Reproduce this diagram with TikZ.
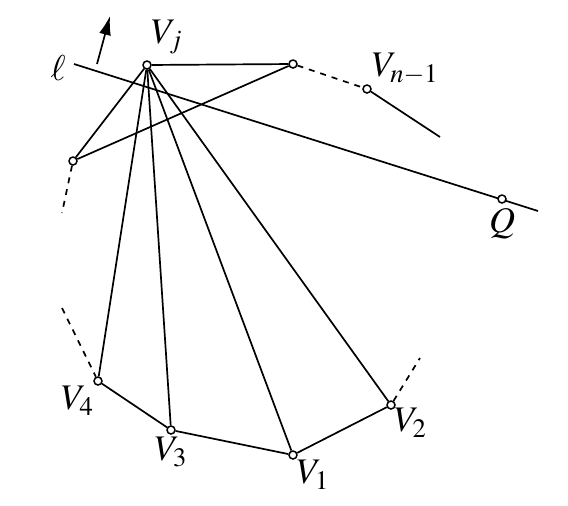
\documentclass[tikz,border=0pt]{standalone}
\usepackage{mathptmx}
\usetikzlibrary{calc,positioning,arrows.meta}
\tikzstyle{pt}=[shape=circle,draw,fill=white,inner sep=0pt,minimum size=4pt,line width=0.75pt]
\tikzstyle{lbl}=[inner sep=1pt,font=\fontsize{18}{21}\selectfont]
\newcommand{\vertex}[5]{\node[pt,label={[lbl,label distance=#4]#3:{$#5$}}] (#1) at (#2) {};}

\begin{document}
\begin{tikzpicture}[x=0.5pt,y=-0.5pt,line width=0.85pt]
    \useasboundingbox (0,0) rectangle (568,505);

    % line l and the point Q on it
    \coordinate (l1) at (74,64);
    \coordinate (l2) at (538,211);
    \node[lbl] (ell) at (58,68) {$\ell$};

    % free ends
    \coordinate (e1) at (440,137);
    \coordinate (e2) at (62,213);
    \coordinate (e3) at (62,308);
    \coordinate (e4) at (420,358);
    \coordinate (a1) at (97,64);
    \coordinate (a2) at (110,16);

    \draw (l1) -- (l2);
    \draw[-{Latex[length=9.5pt,width=6pt]}] (a1) -- (a2);

    \vertex{vj}{147,65}{80}{1.5pt}{V_j}
    \vertex{p}{293,64}{0}{0pt}{}
    \vertex{vn}{367,89}{40}{-1pt}{V_{n-1}}
    \vertex{q}{502,199}{-90}{1pt}{Q}
    \vertex{l}{73,161}{0}{0pt}{}
    \vertex{v4}{98,381}{-115}{-1pt}{V_4}
    \vertex{v3}{171,430}{-90}{0pt}{V_3}
    \vertex{v1}{293,455}{-70}{-1pt}{V_1}
    \vertex{v2}{391,405}{-70}{-2pt}{V_2}

    % polygon edges
    \draw (vj) -- (p);
    \draw (l) -- (p);
    \draw (vn) -- (e1);
    \draw (v4) -- (v3) -- (v1) -- (v2);
    \draw[dashed] (p) -- (vn);
    \draw[dashed] (l) -- (e2);
    \draw[dashed] (e3) -- (v4);
    \draw[dashed] (v2) -- (e4);

    % diagonals from V_j
    \foreach \v in {l,v4,v3,v1,v2}
        \draw (vj) -- (\v);
\end{tikzpicture}
\end{document}
